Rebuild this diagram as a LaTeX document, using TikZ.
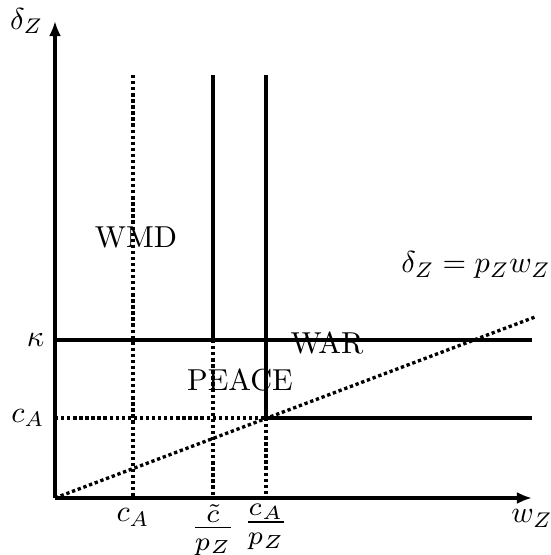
\documentclass[tikz,border=0pt]{standalone}
\usetikzlibrary{arrows.meta}
\begin{document}
\begin{tikzpicture}[x=0.33pt,y=0.33pt,
    bound/.style={line width=1.1pt},
    dots/.style={line width=1.1pt,dash pattern=on 1.1pt off 0.9pt},
    ratio/.style={below,scale=1.25}]
    \useasboundingbox (-55,-57) rectangle (496,498);

    % Axes
    \draw[line width=1.2pt,-{Latex[length=5pt,width=4pt]}] (0,0) -- (477,0) node[below] (wz) {$w_Z$};
    \draw[line width=1.2pt,-{Latex[length=5pt,width=4pt]}] (0,0) -- (0,477) node[left] (dz) {$\delta_Z$};

    % Thresholds on the axes
    \node[below] (ca) at (78,0) {$c_A$};
    \node[ratio] (ct) at (158,7) {$\frac{\tilde{c}}{p_Z}$};
    \node[ratio] (cap) at (211,7) {$\frac{c_A}{p_Z}$};
    \node[left] (kap) at (0,158) {$\kappa$};
    \node[left] (cay) at (0,80) {$c_A$};

    % Horizontal boundaries
    \draw[bound] (0,158) -- (477,158);
    \draw[dots] (0,80) -- (211,80);
    \draw[bound] (211,80) -- (477,80);

    % Vertical boundaries
    \draw[dots] (78,423) -- (78,0);
    \draw[bound] (158,423) -- (158,158);
    \draw[dots] (158,158) -- (158,0);
    \draw[bound] (211,423) -- (211,80);
    \draw[dots] (211,80) -- (211,0);

    % Cost line
    \draw[dots] (0,0) -- (480,181);
    \node (line) at (421,233) {$\delta_Z = p_Z w_Z$};

    % Regions
    \node (wmd) at (81,261) {WMD};
    \node (peace) at (185,118) {PEACE};
    \node (war) at (272,155) {WAR};
\end{tikzpicture}
\end{document}
